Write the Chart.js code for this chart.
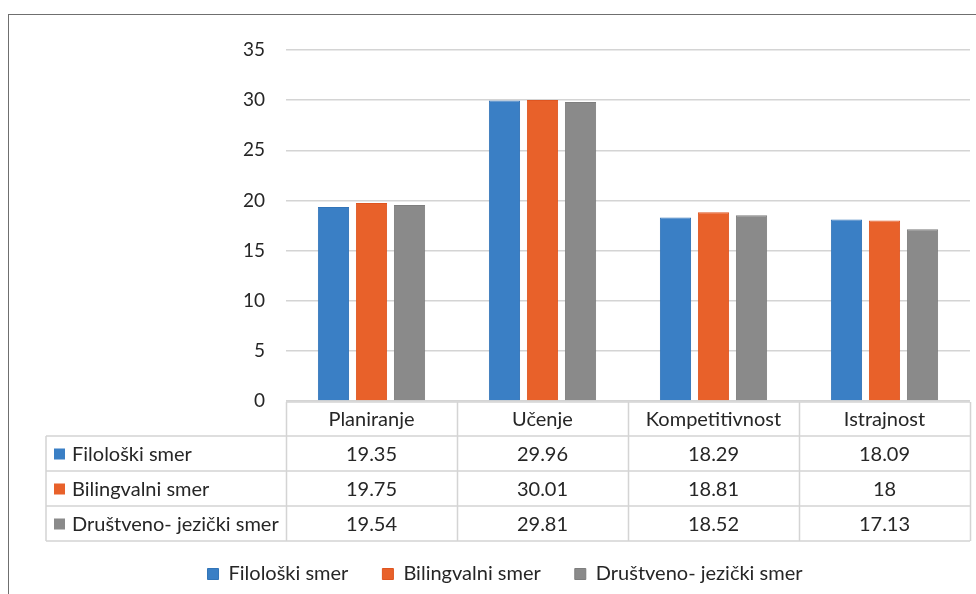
<!DOCTYPE html>
<html>
<head>
<meta charset="utf-8">
<script src="https://cdn.jsdelivr.net/npm/chart.js@4.4.1/dist/chart.umd.min.js"></script>
<style>
  html, body { margin: 0; padding: 0; background: #fff; overflow: hidden; }
  #frame { position: absolute; left: 8px; top: 14px; width: 1000px; height: 620px;
           border-left: 1px solid #6f6f6f; border-top: 1px solid #6f6f6f; }
  #wrap { position: absolute; left: 0; top: 0; width: 976px; height: 594px; }
</style>
</head>
<body>
<div id="frame"></div>
<div id="wrap"><canvas id="chart"></canvas></div>
<script>
const categories = ["Planiranje", "Učenje", "Kompetitivnost", "Istrajnost"];
const seriesNames = ["Filološki smer", "Bilingvalni smer", "Društveno- jezički smer"];
const filoloski = [19.35, 29.96, 18.29, 18.09];
const bilingvalni = [19.75, 30.01, 18.81, 18];
const drustveno = [19.54, 29.81, 18.52, 17.13];
const yTicks = [0, 5, 10, 15, 20, 25, 30, 35];
const colors = ["#3a7fc5", "#e8612a", "#8a8a8a"];
const borders = ["#3274b8", "#df5520", "#7e7e7e"];

const FONT = "Lato, 'Open Sans', sans-serif";
const TEXT = "#262626";
const LINE = "#d4d4d4";

// data table under the plot, drawn from the same arrays and the x scale
const dataTable = {
  id: "dataTable",
  afterDraw(chart) {
    const ctx = chart.ctx;
    const x = chart.scales.x;
    const area = chart.chartArea;
    const n = categories.length;
    const colW = (area.right - area.left) / n;
    const labelLeft = area.left - 240;
    const top = area.bottom + 1;
    const headH = 34;
    const rowH = 35;
    const rowsTop = top + headH;
    const bottom = rowsTop + rowH * chart.data.datasets.length;

    ctx.save();
    ctx.strokeStyle = LINE;
    ctx.lineWidth = 1.5;
    ctx.beginPath();
    ctx.moveTo(area.left, top); ctx.lineTo(area.right, top);
    for (let i = 0; i <= n; i++) {
      const cx = Math.round(x.getPixelForValue(i) - colW / 2) + 0.5;
      ctx.moveTo(cx, top); ctx.lineTo(cx, bottom);
    }
    for (let r = 0; r <= chart.data.datasets.length; r++) {
      const y = rowsTop + r * rowH;
      ctx.moveTo(labelLeft, y); ctx.lineTo(area.right, y);
    }
    ctx.moveTo(labelLeft, rowsTop); ctx.lineTo(labelLeft, bottom);
    ctx.stroke();

    ctx.fillStyle = TEXT;
    ctx.font = "20px " + FONT;
    ctx.textBaseline = "middle";
    ctx.textAlign = "center";
    categories.forEach((c, i) => {
      ctx.fillText(c, x.getPixelForValue(i), top + headH / 2 + 1);
    });
    chart.data.datasets.forEach((ds, r) => {
      const cy = rowsTop + r * rowH + rowH / 2 + 1;
      ctx.fillStyle = ds.backgroundColor;
      ctx.fillRect(labelLeft + 8, cy - 6, 11, 11);
      ctx.fillStyle = TEXT;
      ctx.textAlign = "left";
      ctx.fillText(ds.label, labelLeft + 26, cy);
      ctx.textAlign = "center";
      ds.data.forEach((v, i) => {
        ctx.fillText(String(v), x.getPixelForValue(i), cy);
      });
    });
    ctx.restore();
  }
};

new Chart(document.getElementById("chart"), {
  type: "bar",
  data: {
    labels: categories,
    datasets: [filoloski, bilingvalni, drustveno].map((d, i) => ({
      label: seriesNames[i],
      data: d,
      backgroundColor: colors[i],
      borderColor: borders[i],
      borderWidth: 1,
      categoryPercentage: 0.667,
      barPercentage: 0.82,
    })),
  },
  options: {
    responsive: true,
    maintainAspectRatio: false,
    animation: false,
    layout: { padding: { top: 50, right: 6, bottom: 0, left: 40 } },
    plugins: {
      tooltip: { enabled: false },
      legend: {
        position: "bottom",
        labels: {
          font: { family: FONT, size: 20 },
          color: TEXT,
          boxWidth: 11,
          boxHeight: 11,
          padding: 34,
        },
      },
    },
    scales: {
      x: {
        grid: { display: false },
        border: { display: false },
        ticks: { display: false },
        afterFit(scale) { scale.height = 129; },
      },
      y: {
        min: 0,
        max: 35,
        afterBuildTicks(scale) { scale.ticks = yTicks.map((v) => ({ value: v })); },
        grid: { color: LINE, lineWidth: 1.5, drawTicks: false },
        border: { display: false },
        ticks: { font: { family: FONT, size: 19 }, color: TEXT, padding: 21 },
        afterFit(scale) { scale.width = 246; },
      },
    },
  },
  plugins: [dataTable],
});
</script>
</body>
</html>
